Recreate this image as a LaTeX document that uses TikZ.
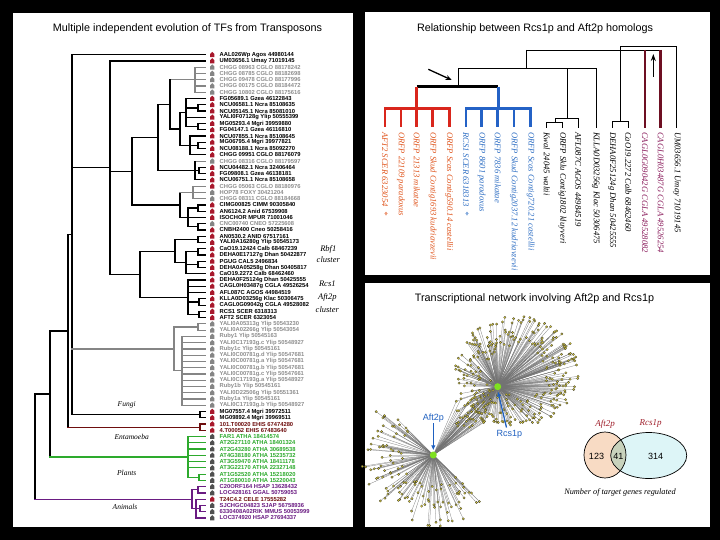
\documentclass[tikz,border=0pt]{standalone}
\usepackage{fontspec}
\setmainfont{Liberation Serif}
\setsansfont{Liberation Sans}
\usetikzlibrary{arrows.meta}
\definecolor{mred}{HTML}{A8182C}
\definecolor{mgray}{HTML}{858585}
\definecolor{tgray}{HTML}{8E8E8E}
\definecolor{tdark}{HTML}{505050}
\definecolor{entc}{HTML}{6E0E0E}
\definecolor{plc}{HTML}{2DAA2D}
\definecolor{anc}{HTML}{6A1B82}
\definecolor{rcred}{HTML}{D9261C}
\definecolor{rclab}{HTML}{E0561E}
\definecolor{rcblue}{HTML}{2462C6}
\definecolor{rcblab}{HTML}{2F6FC4}
\definecolor{mrn}{HTML}{6E0F22}
\definecolor{mrnlab}{HTML}{8A1C5C}
\definecolor{netblue}{HTML}{1F60C0}
\definecolor{hubg}{HTML}{7FE020}
\definecolor{dotc}{HTML}{D2C63C}
\definecolor{vA}{HTML}{F8DBC4}
\definecolor{vB}{HTML}{DDF5F7}
\definecolor{vAB}{HTML}{C8D2BC}
\definecolor{vlab}{HTML}{A0202C}
\newcommand\tvl[4]{\draw[#1] (#2,{#3}) -- (#2,{#4});}
\newcommand\thl[4]{\draw[#1] (#2,{#4}) -- (#3,{#4});}
\newcommand\tlf[3]{\draw[#1] (#2,{ly(#3)}) -- (205,{ly(#3)});}
\newcommand\tpr[4]{\draw[#1] (205,{ly(#3)}) -- (#2,{ly(#3)}) -- (#2,{ly(#4)}) -- (205,{ly(#4)});}
\begin{document}
\begin{tikzpicture}[x=1pt,y=-1pt,
  trk/.style={line width=1.2pt, black, line cap=rect},
  trg/.style={trk, draw=mgray},
  tre/.style={trk, draw=entc},
  trp/.style={trk, draw=plc},
  tra/.style={trk, draw=anc},
  lab/.style={inner sep=0pt, anchor=west, font=\sffamily\bfseries\fontsize{5.8}{6}\selectfont},
  ttl/.style={font=\sffamily\fontsize{10.8}{12}\selectfont},
  clab/.style={font=\itshape\fontsize{7.5}{9}\selectfont, inner sep=0pt},
  rl/.style={rotate=-90, anchor=west, inner sep=0pt, font=\itshape\fontsize{8.6}{10}\selectfont},
  rt/.style={line width=0.9pt, black},
  edge/.style={draw=black!55, line width=0.25pt},
  dotn/.style={fill=dotc, draw=black!70!olive, line width=0.25pt},
  hub/.style={circle, fill=hubg, inner sep=0pt, minimum size=7pt}]
\pgfmathdeclarefunction{ly}{1}{\pgfmathparse{54.7+6.26*(#1-1)}}
\useasboundingbox (0,0) rectangle (720,540);
\fill[black] (0,0) rectangle (720,540);
\fill[white] (13,13) rectangle (353,527);
\fill[white] (365,12) rectangle (710,275);
\fill[white] (365,283) rectangle (710,527);
% titles
\node[ttl] (t1) at (187.5,29) {Multiple independent evolution of TFs from Transposons};
\node[ttl] (t2) at (535,28.5) {Relationship between Rcs1p and Aft2p homologs};
\node[ttl] (t3) at (534.5,298.5) {Transcriptional network involving Aft2p and Rcs1p};
% ---------------- left tree
\tvl{trg}{195}{ly(3)}{ly(7)}
\foreach \k in {3,...,7}{\tlf{trg}{195}{\k}}
\thl{trg}{170}{195}{79.74}
\tlf{trk}{186}{8} \tpr{trk}{198}{9}{10} \tlf{trk}{186}{11} \tpr{trk}{198}{12}{13}
\tvl{trk}{186}{ly(8)}{126.69} \thl{trk}{186}{198}{107.91} \thl{trk}{186}{198}{126.69}
\tlf{trk}{190}{14} \tpr{trk}{198}{15}{16} \tlf{trk}{190}{17}
\tvl{trk}{190}{ly(14)}{ly(17)} \thl{trk}{190}{198}{145.47}
\tvl{trk}{180}{112.6}{145.47} \thl{trk}{180}{186}{112.6} \thl{trk}{180}{190}{145.47}
\tvl{trk}{170}{79.74}{129.04} \thl{trk}{170}{180}{129.04}
\tlf{trg}{195}{18} \tpr{trk}{199}{19}{20} \tlf{trk}{195}{21}
\tvl{trk}{195}{ly(18)}{ly(21)} \thl{trk}{195}{199}{170.51}
\tvl{trk}{158}{104.39}{170.51} \thl{trk}{158}{170}{104.39} \thl{trk}{158}{195}{170.51}
\foreach \k in {22,23,24}{\tlf{trg}{193}{\k}}
\tvl{trg}{193}{ly(22)}{ly(24)}
\tpr{trk}{198}{25}{26} \tlf{trk}{188}{27} \tpr{trk}{198}{28}{29}
\tvl{trk}{188}{208.07}{226.85} \thl{trk}{188}{198}{208.07} \thl{trk}{188}{198}{226.85}
\tvl{trk}{180}{192.42}{217.46} \thl{trg}{180}{193}{192.42} \thl{trk}{180}{188}{217.46}
\tvl{trk}{132}{137.45}{204.94} \thl{trk}{132}{158}{137.45} \thl{trk}{132}{180}{204.94}
\tpr{trk}{198}{32}{33} \tpr{trk}{198}{34}{35} \tlf{trk}{186}{36}
\tvl{trk}{186}{251.89}{273.8} \thl{trk}{186}{198}{251.89} \thl{trk}{186}{198}{264.41}
\tpr{trk}{198}{30}{31}
\tvl{trk}{175}{239.37}{262.85} \thl{trk}{175}{198}{239.37} \thl{trk}{175}{186}{262.85}
\foreach \k in {37,38,39}{\tlf{trk}{188}{\k}}
\tpr{trk}{199}{40}{41} \tpr{trk}{199}{42}{43}
\tvl{trk}{188}{ly(37)}{314.49} \thl{trk}{188}{199}{301.97} \thl{trk}{188}{199}{314.49}
\tvl{trk}{140}{251.1}{297.3} \thl{trk}{140}{175}{251.1} \thl{trk}{140}{188}{297.3}
\tlf{trk}{110}{2}
\tvl{trk}{110}{ly(2)}{274.2} \thl{trk}{110}{132}{171.2} \thl{trk}{110}{140}{274.2}
\tpr{trg}{198}{44}{45}
\foreach \k in {46,...,57}{\tlf{trg}{182}{\k}}
\tvl{trg}{182}{ly(46)}{ly(57)}
\tvl{trg}{174}{327.01}{370.83} \thl{trg}{174}{198}{327.01} \thl{trg}{174}{182}{370.83}
\tpr{trk}{200}{58}{59}
\tlf{trk}{72}{1}
\tvl{trk}{72}{ly(1)}{414.65} \thl{trk}{72}{110}{167.6} \thl{trg}{72}{174}{348.92} \thl{trk}{72}{200}{414.65}
\tpr{tre}{200}{60}{61}
\tvl{trk}{68}{234.7}{427.17} \thl{trk}{68}{72}{234.7} \thl{tre}{68}{200}{427.17}
\foreach \k in {62,...,67}{\tlf{trp}{188}{\k}}
\tpr{trp}{199}{68}{69}
\tvl{trp}{188}{ly(62)}{477.25} \thl{trp}{188}{199}{477.25}
\tvl{trk}{50}{330.9}{456.9} \thl{trk}{50}{68}{330.9} \thl{trp}{50}{188}{456.9}
\tpr{tra}{198}{70}{71} \tlf{tra}{196}{72} \tpr{tra}{200}{73}{74} \tlf{tra}{196}{75}
\tvl{tra}{196}{ly(72)}{ly(75)} \thl{tra}{196}{200}{508.55}
\tvl{tra}{192}{489.77}{508.55} \thl{tra}{192}{198}{489.77} \thl{tra}{192}{196}{508.55}
\tvl{trk}{35}{393.9}{499.16} \thl{trk}{35}{50}{393.9} \thl{tra}{35}{192}{499.16}
\node[clab] (fungi) at (126.7,405) {Fungi};
\node[clab] (entam) at (131.7,436.7) {Entamoeba};
\node[clab] (plants) at (126.7,472.5) {Plants};
\node[clab] (animals) at (125,506.7) {Animals};
\node[clab, align=center, font=\itshape\fontsize{8.5}{11.7}\selectfont] (rbf) at (328.3,254.2) {Rbf1\\cluster};
\node[clab, align=center, font=\itshape\fontsize{8.5}{13.3}\selectfont] (rcsc) at (327.3,296.7) {Rcs1\\Aft2p\\cluster};
% leaf labels
\foreach \i/\tx/\tc/\mc in {
1/AAL026Wp Agos 44980144/black/mred,
2/UM03656.1 Umay 71019145/black/mred,
3/CHGG 08963 CGLO 88178242/tgray/mgray,
4/CHGG 08785 CGLO 88182698/tgray/mgray,
5/CHGG 09478 CGLO 88177996/tgray/mgray,
6/CHGG 00175 CGLO 88184472/tgray/mgray,
7/CHGG 10802 CGLO 88175616/tgray/mgray,
8/FG05689.1 Gzea 46122843/black/mred,
9/NCU06581.1 Ncra 85108635/black/mred,
10/NCU05145.1 Ncra 85081010/black/mred,
11/YALI0F07128g Ylip 50555399/black/mred,
12/MG05293.4 Mgri 39959880/black/mred,
13/FG04147.1 Gzea 46116810/black/mred,
14/NCU07855.1 Ncra 85108645/black/mred,
15/MG06795.4 Mgri 39977821/black/mred,
16/NCU08188.1 Ncra 85092270/black/mred,
17/CHGG 09951 CGLO 88176079/black/mred,
18/CHGG 08316 CGLO 88179597/tgray/mgray,
19/NCU04482.1 Ncra 32406464/black/mred,
20/FG09808.1 Gzea 46138181/black/mred,
21/NCU06751.1 Ncra 85108658/black/mred,
22/CHGG 05063 CGLO 88180976/tgray/mred,
23/HOP78 FOXY 30421204/tgray/mgray,
24/CHGG 08311 CGLO 88184668/tgray/mgray,
25/CIMG00825 CIMM 90305840/black/mred,
26/AN6124.2 Anid 67539908/black/mred,
27/ISOCHOR MPUR 71001046/black/mred,
28/CNC00740 CNEO 57225608/tgray/mgray,
29/CNBH2400 Cneo 50258416/black/mred,
30/AN0530.2 ANID 67517161/black/mred,
31/YALI0A16280g Ylip 50545173/black/mred,
32/CaO19.12424 Calb 68467239/black/mred,
33/DEHA0E17127g Dhan 50422877/black/mred,
34/PGUG CAL5 2496834/black/mred,
35/DEHA0A05258g Dhan 50405817/black/mred,
36/CaO19.2272 Calb 68462460/black/mred,
37/DEHA0F25124g Dhan 50425555/black/mred,
38/CAGL0H03487g CGLA 49526254/black/mred,
39/AFL087C AGOS 44984519/black/mred,
40/KLLA0D03256g Klac 50306475/black/mred,
41/CAGL0G09042g CGLA 49528082/black/mred,
42/RCS1 SCER 6318313/black/mred,
43/AFT2 SCER 6323054/black/mred,
44/YALI0A05313g Ylip 50543230/tgray/mgray,
45/YALI0A02266g Ylip 50543054/tgray/mgray,
46/Ruby1 Ylip 50545163/tgray/mgray,
47/YALI0C17193g.c Ylip 50548927/tgray/mgray,
48/Ruby1c Ylip 50545161/tgray/mgray,
49/YALI0C00781g.d Ylip 50547681/tgray/mgray,
50/YALI0C00781g.a Ylip 50547681/tgray/mgray,
51/YALI0C00781g.b Ylip 50547681/tgray/mgray,
52/YALI0C00781g.c Ylip 50547661/tgray/mgray,
53/YALI0C17193g.a Ylip 50548927/tgray/mgray,
54/Ruby1b Ylip 50545161/tgray/mgray,
55/YALI0D22506g Ylip 50551361/tgray/mgray,
56/Ruby1a Ylip 50545161/tgray/mgray,
57/YALI0C17193g.b Ylip 50548927/tgray/mgray,
58/MG07557.4 Mgri 39972511/black/mred,
59/MG09892.4 Mgri 39969511/black/mred,
60/101.T00020 EHIS 67474280/entc/mred,
61/4.T00052 EHIS 67483640/entc/mred,
62/FAR1 ATHA 18414574/plc/tdark,
63/AT2G27110 ATHA 18401324/plc/tdark,
64/AT2G43280 ATHA 30689538/plc/tdark,
65/AT4G38180 ATHA 15235732/plc/tdark,
66/AT3G59470 ATHA 18411178/plc/tdark,
67/AT3G22170 ATHA 22327148/plc/tdark,
68/AT1G52520 ATHA 15218020/plc/tdark,
69/AT1G80010 ATHA 15220043/plc/tdark,
70/C20ORF164 HSAP 13628432/anc/tdark,
71/LOC428161 GGAL 50759053/anc/tdark,
72/T24C4.2 CELE 17555282/entc/mred,
73/SJCHGC04823 SJAP 56758936/anc/tdark,
74/6330408A02RIK MMUS 50053999/anc/tdark,
75/LOC374920 HSAP 27694337/anc/tdark}{
  \fill[\mc] (212.3,{ly(\i)-2.8}) -- ++(2.1,2) -- ++(0,3.2) -- ++(-4.2,0) -- ++(0,-3.2) -- cycle;
  \node[lab, text=\tc] (n\i) at (219.5,{ly(\i)}) {\tx};
}
% ---------------- right tree (Rcs1p / Aft2p homologs)
\draw[rt] (620,46.7) -- (676.7,46.7) -- (676.7,128);
\draw[rt] (620,46.7) -- (620,121.7);
\draw[rt] (526.7,50) -- (660.7,50);
\draw[rt] (612.3,128) -- (612.3,121.7) -- (628.3,121.7) -- (628.3,128);
\draw[line width=2.8pt, mrn] (645,50) -- (645,128);
\draw[line width=2.8pt, mrn] (660.7,50) -- (660.7,128);
\draw[rt] (526.7,50) -- (526.7,68.3);
\draw[rt] (458,68.3) -- (596.7,68.3) -- (596.7,128);
\draw[rt] (567.7,68.3) -- (567.7,118.3);
\draw[rt] (555.7,122.7) -- (555.7,118.3) -- (578.3,118.3) -- (578.3,128);
\draw[rt] (546.7,128) -- (546.7,122.7) -- (562.3,122.7) -- (562.3,128);
\draw[rt] (458,68.3) -- (458,86.7);
\draw[line width=2.4pt, black] (416.7,86.7) -- (498.3,86.7);
\draw[line width=2.6pt, rcred] (416.7,86.7) -- (416.7,108.3);
\draw[line width=2.6pt, rcred, line cap=rect] (385,108.3) -- (449.3,108.3);
\foreach \xx in {385,401,416.7,432.7,449.3}{\draw[line width=2.6pt, rcred] (\xx,108.3) -- (\xx,127);}
\draw[line width=2.6pt, rcblue] (498.3,86.7) -- (498.3,108.3);
\draw[line width=2.6pt, rcblue, line cap=rect] (466,108.3) -- (530.7,108.3);
\foreach \xx in {466,481.7,497.7,514,530.7}{\draw[line width=2.6pt, rcblue] (\xx,108.3) -- (\xx,127);}
\coordinate (a1s) at (428.3,69.3);
\coordinate (a1e) at (451.7,80);
\draw[line width=1.3pt, -{Stealth[length=6pt,width=5pt]}] (a1s) -- (a1e);
\coordinate (a2s) at (653.3,77);
\coordinate (a2e) at (653.3,54);
\draw[line width=1.6pt, -{Stealth[length=7pt,width=5pt]}] (a2s) -- (a2e);
\foreach \xx/\tx/\cc [count=\j] in {
385/AFT2 SCER 6323054\ \ */rclab,
401/ORFP 22109 paradoxus/rclab,
416.7/ORFP 21313 mikatae/rclab,
432.7/ORFP Skud Contig1693 kudriavzevii/rclab,
449.3/ORFP Scas Contig590.14 castellii/rclab,
466/RCS1 SCER 6318313\ \ */rcblab,
481.7/ORFP 8601 paradoxus/rcblab,
497.7/ORFP 7836 mikatae/rcblab,
514/ORFP Skud Contig2037.12 kudriavzevii/rcblab,
530.7/ORFP Scas Contig720.21 castellii/rcblab,
546.7/Kwal 24045 waltii/black,
562.3/ORFP Sklu Contig1802 kluyveri/black,
578.3/AFL087C AGOS 44984519/black,
596/KLLA0D03256g Klac 50306475/black,
612.3/DEHA0F25124g Dhan 50425555/black,
628.3/CaO19.2272 Calb 68462460/black,
645/CAGL0G09042G CGLA 49528082/mrnlab,
660.7/CAGL0H03487G CGLA 49526254/mrnlab,
676.7/UM03656.1 Umay 71019145/black}{
  \node[rl, text=\cc] (r\j) at (\xx,132) {\tx};
}
% ---------------- network
\coordinate (hR) at (497.7,386.7);
\coordinate (hA) at (433.3,455);
\pgfmathsetseed{12}
\foreach \k in {1,...,310}{%
  \pgfmathsetmacro\ang{rnd*360}%
  \pgfmathsetmacro\rr{sqrt(0.2+0.8*rnd)}%
  \pgfmathsetmacro\px{517+62*\rr*cos(\ang)}%
  \pgfmathsetmacro\py{371+55*\rr*sin(\ang)}%
  \draw[edge] (hR) -- (\px,\py);}
\pgfmathsetseed{37}
\foreach \k in {1,...,125}{%
  \pgfmathsetmacro\ang{135+rnd*185}%
  \pgfmathsetmacro\rr{30+rnd*42}%
  \pgfmathsetmacro\px{433.3+\rr*cos(\ang)}%
  \pgfmathsetmacro\py{455-\rr*sin(\ang)}%
  \draw[edge] (hA) -- (\px,\py);}
\pgfmathsetseed{55}
\foreach \k in {1,...,41}{%
  \pgfmathsetmacro\px{456+rnd*30}%
  \pgfmathsetmacro\py{398+rnd*30}%
  \draw[edge] (hA) -- (\px,\py) -- (hR);}
\pgfmathsetseed{12}
\foreach \k in {1,...,310}{%
  \pgfmathsetmacro\ang{rnd*360}%
  \pgfmathsetmacro\rr{sqrt(0.2+0.8*rnd)}%
  \pgfmathsetmacro\px{517+62*\rr*cos(\ang)}%
  \pgfmathsetmacro\py{371+55*\rr*sin(\ang)}%
  \filldraw[dotn] (\px,\py) circle (1.2pt);}
\pgfmathsetseed{37}
\foreach \k in {1,...,125}{%
  \pgfmathsetmacro\ang{135+rnd*185}%
  \pgfmathsetmacro\rr{30+rnd*42}%
  \pgfmathsetmacro\px{433.3+\rr*cos(\ang)}%
  \pgfmathsetmacro\py{455-\rr*sin(\ang)}%
  \filldraw[dotn] (\px,\py) circle (1.2pt);}
\pgfmathsetseed{55}
\foreach \k in {1,...,41}{%
  \pgfmathsetmacro\px{456+rnd*30}%
  \pgfmathsetmacro\py{398+rnd*30}%
  \filldraw[dotn] (\px,\py) circle (1.2pt);}
\node[hub] (hubR) at (hR) {};
\node[hub] (hubA) at (hA) {};
\node[font=\sffamily\fontsize{9}{10}\selectfont, text=netblue, inner sep=1pt] (aftl) at (433.3,417.7) {Aft2p};
\node[font=\sffamily\fontsize{9}{10}\selectfont, text=netblue, inner sep=1pt] (rcsl) at (509.3,434.3) {Rcs1p};
\draw[netblue, line width=1.3pt, -{Latex[length=5pt,width=4.5pt]}, shorten >=1pt] (aftl.south) -- (hubA.north);
\coordinate (rcst) at (506.5,427.5);
\draw[netblue, line width=1.3pt, -{Latex[length=5pt,width=4.5pt]}, shorten >=1pt] (rcst) -- (hubR.south);
% ---------------- Venn
\fill[vA] (605,455) ellipse [x radius=21pt, y radius=23pt];
\fill[vB] (648.7,455.5) ellipse [x radius=38pt, y radius=23pt];
\begin{scope}
\clip (605,455) ellipse [x radius=21pt, y radius=23pt];
\fill[vAB] (648.7,455.5) ellipse [x radius=38pt, y radius=23pt];
\end{scope}
\draw[line width=0.7pt] (605,455) ellipse [x radius=21pt, y radius=23pt];
\draw[line width=0.7pt] (648.7,455.5) ellipse [x radius=38pt, y radius=23pt];
\node[font=\sffamily\fontsize{9}{10}\selectfont] (v1) at (596.5,456.5) {123};
\node[font=\sffamily\fontsize{9}{10}\selectfont] (v2) at (618.3,456) {41};
\node[font=\sffamily\fontsize{9}{10}\selectfont] (v3) at (655.7,456.5) {314};
\node[font=\itshape\fontsize{9}{10}\selectfont, text=vlab] (va) at (605,424.3) {Aft2p};
\node[font=\itshape\fontsize{9}{10}\selectfont, text=vlab] (vb) at (650.7,423.5) {Rcs1p};
\node[font=\itshape\fontsize{8.3}{10}\selectfont] (vc) at (620,492.7) {Number of target genes regulated};
\end{tikzpicture}
\end{document}
